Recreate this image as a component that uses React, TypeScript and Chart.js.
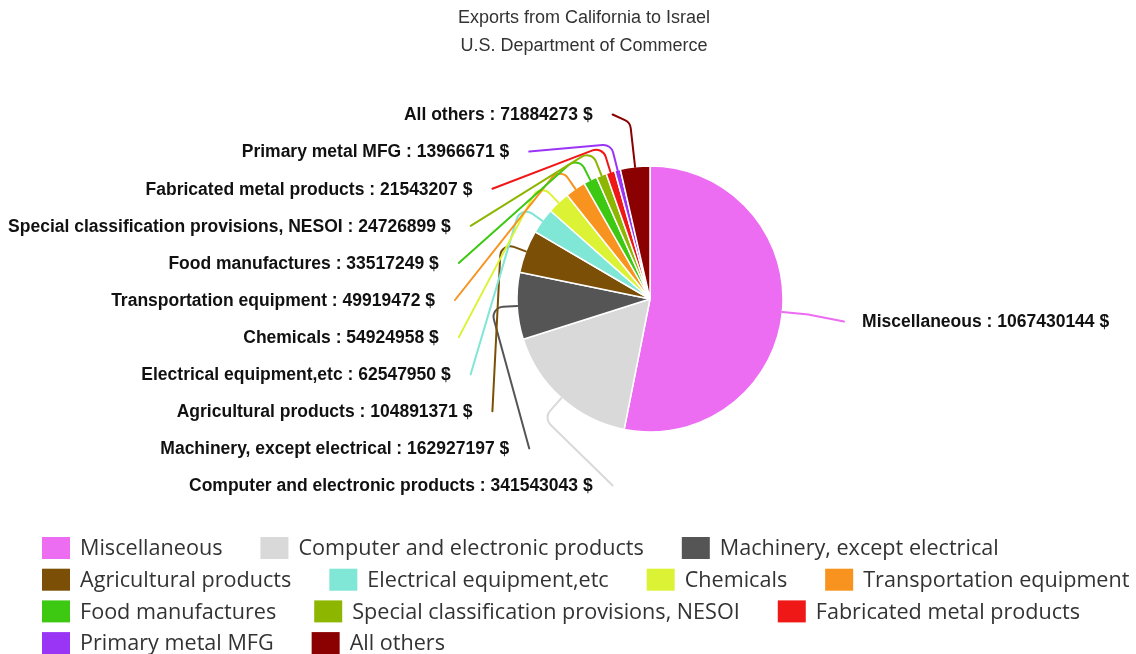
import React, { useEffect, useRef } from 'react';
import { Chart, registerables } from 'chart.js';

Chart.register(...registerables);

const TITLE_LINES = ['Exports from California to Israel', 'U.S. Department of Commerce'];

const CATEGORIES = [
  'Miscellaneous',
  'Computer and electronic products',
  'Machinery, except electrical',
  'Agricultural products',
  'Electrical equipment,etc',
  'Chemicals',
  'Transportation equipment',
  'Food manufactures',
  'Special classification provisions, NESOI',
  'Fabricated metal products',
  'Primary metal MFG',
  'All others',
];

const VALUES = [
  1067430144, 341543043, 162927197, 104891371, 62547950, 54924958,
  49919472, 33517249, 24726899, 21543207, 13966671, 71884273,
];

const COLORS = [
  '#EC6CF2', '#D9D9D9', '#555555', '#7B4F06', '#80E6D5', '#DCF335',
  '#F7931E', '#3DC811', '#8DB600', '#F01717', '#9A35F5', '#8B0000',
];

const UNIT = '$';

const W = 1136;
const H = 654;
const CX = 650;
const CY = 299;
const R = 133;
const BOX = 140;

const outerLabels = {
  id: 'outerLabels',
  afterDatasetsDraw(chart: any) {
    const ctx = chart.ctx as CanvasRenderingContext2D;
    const meta = chart.getDatasetMeta(0);
    const A = 195;
    const B = 189;
    const CORNER = 1.2;
    const GAP = 20;
    const SPACING = 37.1;
    const items = meta.data.map((arc: any, i: number) => {
      const p = arc.getProps(['x', 'y', 'startAngle', 'endAngle', 'outerRadius'], true);
      const mid = (p.startAngle + p.endAngle) / 2;
      return { i, cx: p.x, cy: p.y, r: p.outerRadius, mid, ex: 0, ey: 0, side: Math.cos(mid) >= 0 ? 1 : -1 };
    });
    const left = items.filter((it: any) => it.side < 0).sort((a: any, b: any) => a.mid - b.mid);
    const n = left.length;
    left.forEach((it: any, j: number) => {
      const dy = ((n - 1) / 2 - j) * SPACING;
      const k = Math.max(0, 1 - (dy / B) * (dy / B));
      it.ey = it.cy + 1 + dy;
      it.ex = it.cx - A * Math.sqrt(k);
    });
    items.filter((it: any) => it.side > 0).forEach((it: any) => {
      it.ex = it.cx + A * Math.cos(it.mid);
      it.ey = it.cy + B * Math.sin(it.mid) + 4;
    });

    ctx.save();
    ctx.lineWidth = 2;
    ctx.lineCap = 'round';
    ctx.lineJoin = 'round';
    items.forEach((it: any) => {
      const s = Math.sin(it.mid);
      let cr = it.r * CORNER;
      if (s < -0.5) {
        const need = (it.cy - it.ey - 8) / -s;
        if (need > cr) cr = need;
      }
      const ox = it.cx + it.r * Math.cos(it.mid);
      const oy = it.cy + it.r * s;
      const kx = it.cx + cr * Math.cos(it.mid);
      const ky = it.cy + cr * s;
      ctx.strokeStyle = COLORS[it.i];
      ctx.beginPath();
      ctx.moveTo(ox, oy);
      ctx.arcTo(kx, ky, it.ex, it.ey, 10);
      ctx.lineTo(it.ex, it.ey);
      ctx.stroke();
    });
    ctx.font = 'bold 17.5px "Liberation Sans", Arial, sans-serif';
    ctx.fillStyle = '#111111';
    ctx.textBaseline = 'middle';
    items.forEach((it: any) => {
      const text = `${CATEGORIES[it.i]} : ${VALUES[it.i]} ${UNIT}`;
      if (it.side < 0) {
        ctx.textAlign = 'right';
        ctx.fillText(text, it.ex - GAP, it.ey + 1);
      } else {
        ctx.textAlign = 'left';
        ctx.fillText(text, it.ex + 18, it.ey + 1);
      }
    });
    ctx.restore();
  },
  afterDraw(chart: any) {
    const ctx = chart.ctx as CanvasRenderingContext2D;
    ctx.save();
    // title
    ctx.font = '18px "Liberation Sans", Arial, sans-serif';
    ctx.fillStyle = '#333333';
    ctx.textAlign = 'center';
    ctx.textBaseline = 'middle';
    TITLE_LINES.forEach((t, i) => ctx.fillText(t, 584, 18 + i * 28));

    // legend
    const startX = 42;
    const maxX = W + 4;
    const rowH = 31.7;
    const boxW = 28;
    const boxH = 22;
    const textGap = 10;
    const itemGap = 38;
    let x = startX;
    let y = 548;
    ctx.font = '21.6px "Open Sans", sans-serif';
    ctx.textAlign = 'left';
    CATEGORIES.forEach((label, i) => {
      const tw = ctx.measureText(label).width;
      const w = boxW + textGap + tw;
      if (x + w > maxX && x > startX) {
        x = startX;
        y += rowH;
      }
      ctx.fillStyle = COLORS[i];
      ctx.fillRect(x, y - boxH / 2, boxW, boxH);
      ctx.fillStyle = '#333333';
      ctx.fillText(label, x + boxW + textGap, y + 1);
      x += w + itemGap;
    });
    ctx.restore();
  },
};

export default function App() {
  const ref = useRef<HTMLCanvasElement | null>(null);
  useEffect(() => {
    if (!ref.current) return;
    const chart = new Chart(ref.current, {
      type: 'pie',
      data: {
        labels: CATEGORIES,
        datasets: [
          {
            data: VALUES,
            backgroundColor: COLORS,
            borderColor: '#ffffff',
            borderWidth: 1.5,
            radius: R,
          },
        ],
      },
      options: {
        responsive: false,
        animation: false,
        layout: {
          padding: { left: CX - BOX, right: W - CX - BOX, top: CY - BOX, bottom: H - CY - BOX },
        },
        plugins: {
          legend: { display: false },
          title: { display: false },
          tooltip: { enabled: false },
        },
      },
      plugins: [outerLabels],
    });
    return () => chart.destroy();
  }, []);
  return (
    <div style={{ position: 'absolute', left: 0, top: 0, width: W, height: H, background: '#fff' }}>
      <canvas ref={ref} width={W} height={H} style={{ display: 'block' }} />
    </div>
  );
}
